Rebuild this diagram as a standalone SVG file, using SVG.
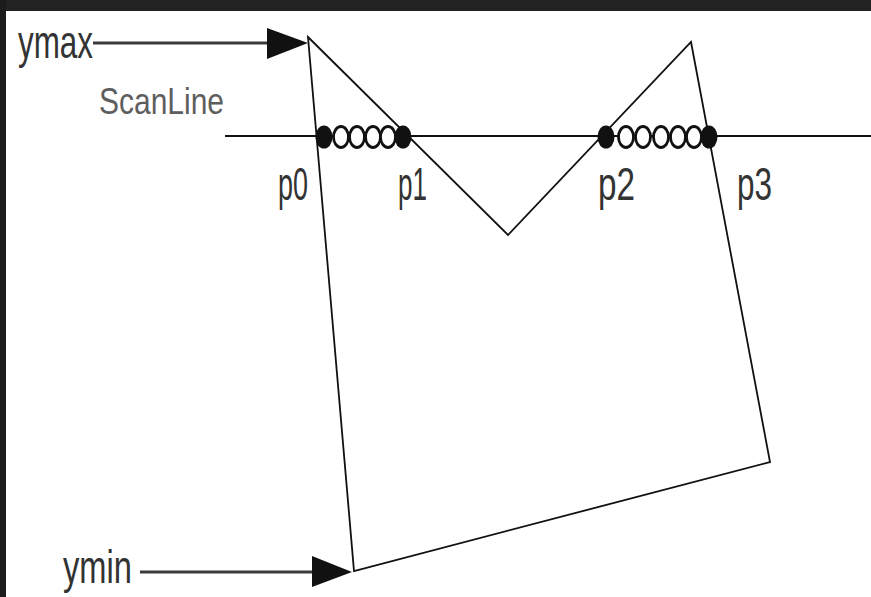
<svg xmlns="http://www.w3.org/2000/svg" width="871" height="597" viewBox="0 0 871 597">
<style>
.lbl{font-family:"Liberation Sans",Arial,sans-serif;fill:#333;font-size:46px;}
.scan{font-family:"Liberation Sans",Arial,sans-serif;fill:#5e5e5e;font-size:36px;}
.edge{fill:none;stroke:#111;stroke-width:1.8;stroke-linejoin:miter;}
.shaft{stroke:#3a3a3a;stroke-width:3;}
.head{fill:#111;}
.dot{fill:#111;}
.ring{fill:#fff;stroke:#111;stroke-width:2.8;}
</style>
<rect x="0" y="0" width="871" height="597" fill="#ffffff"/>
<rect x="0" y="0" width="871" height="11" fill="#222"/>
<rect x="0" y="0" width="6" height="597" fill="#1c1c1c"/>
<g id="scanline">
<line x1="225" y1="136" x2="871" y2="136" stroke="#111" stroke-width="2"/>
</g>
<g id="polygon">
<polygon class="edge" points="308,37 508,235 691,42 770,462 354,571"/>
</g>
<g id="span1">
<ellipse class="ring" cx="341" cy="137" rx="7.5" ry="10.5"/>
<ellipse class="ring" cx="357" cy="137" rx="7.5" ry="10.5"/>
<ellipse class="ring" cx="373" cy="137" rx="7.5" ry="10.5"/>
<ellipse class="ring" cx="388" cy="137" rx="7.5" ry="10.5"/>
<ellipse class="dot" cx="324" cy="137" rx="8.5" ry="11.5"/>
<ellipse class="dot" cx="403" cy="137" rx="8.5" ry="11.5"/>
</g>
<g id="span2">
<ellipse class="ring" cx="626" cy="137" rx="7.5" ry="10.5"/>
<ellipse class="ring" cx="643" cy="137" rx="7.5" ry="10.5"/>
<ellipse class="ring" cx="661" cy="137" rx="7.5" ry="10.5"/>
<ellipse class="ring" cx="678" cy="137" rx="7.5" ry="10.5"/>
<ellipse class="ring" cx="694" cy="137" rx="7.5" ry="10.5"/>
<ellipse class="dot" cx="606" cy="137" rx="8.5" ry="11.5"/>
<ellipse class="dot" cx="709" cy="137" rx="8.5" ry="11.5"/>
</g>
<g id="connectors">
<line class="shaft" x1="93" y1="43" x2="270" y2="43"/>
<polygon class="head" points="267,28 308,43 267,59"/>
<line class="shaft" x1="140" y1="572" x2="315" y2="572"/>
<polygon class="head" points="312,556 352,572 312,587"/>
</g>
<g id="labels">
<text class="lbl" x="18" y="58" textLength="75" lengthAdjust="spacingAndGlyphs">ymax</text>
<text class="scan" x="99" y="114" textLength="125" lengthAdjust="spacingAndGlyphs">ScanLine</text>
<text class="lbl" x="278" y="200" textLength="30" lengthAdjust="spacingAndGlyphs">p0</text>
<text class="lbl" x="398" y="200" textLength="29" lengthAdjust="spacingAndGlyphs">p1</text>
<text class="lbl" x="598" y="200" textLength="37" lengthAdjust="spacingAndGlyphs">p2</text>
<text class="lbl" x="737" y="200" textLength="35" lengthAdjust="spacingAndGlyphs">p3</text>
<text class="lbl" x="63" y="583" textLength="69" lengthAdjust="spacingAndGlyphs">ymin</text>
</g>
</svg>
